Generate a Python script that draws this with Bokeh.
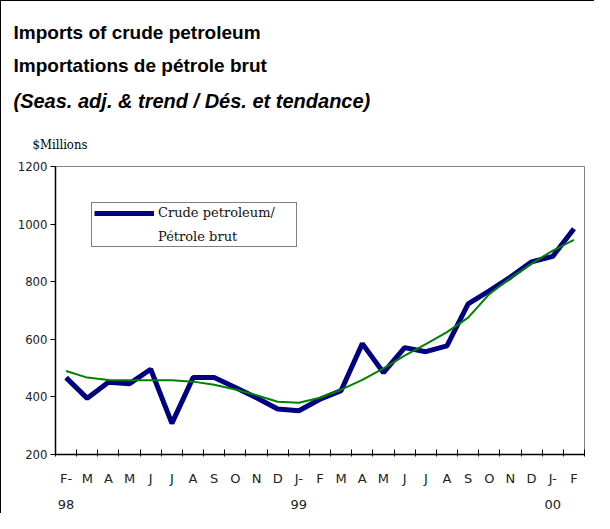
from bokeh.plotting import figure
from bokeh.models import Range1d, FixedTicker, Legend, LegendItem, Title
from bokeh.embed import file_html
from bokeh.resources import INLINE

# ---- data ----
months = ["F-\n98", "M", "A", "M", "J", "J", "A", "S", "O", "N", "D", "J-\n99",
          "F", "M", "A", "M", "J", "J", "A", "S", "O", "N", "D", "J-\n00", "F"]
crude = [467, 395, 451, 446, 496, 308, 467, 467, 433, 397, 358, 352,
         392, 422, 585, 484, 571, 557, 577, 723, 768, 816, 869, 888, 984]
trend = [490, 467, 459, 458, 458, 458, 453, 442, 426, 406, 383, 380,
         397, 425, 459, 499, 543, 583, 625, 675, 757, 813, 863, 908, 945]
y_ticks = [200, 400, 600, 800, 1000, 1200]

n = len(months)
xs = [i + 0.5 for i in range(n)]

W, H = 594, 513
p = figure(width=W, height=H, output_backend="svg", toolbar_location=None,
           title=None,
           x_range=Range1d(0, n), y_range=Range1d(200, 1200),
           min_border_left=54, min_border_right=11, min_border_top=165,
           min_border_bottom=60)
p.styles = {"border-left": "1px solid #000", "border-top": "1px solid #000"}
p.grid.visible = False
p.outline_line_color = "#808080"
p.outline_line_width = 1
p.background_fill_color = "white"
p.border_fill_color = "white"

# x axis
xa = p.xaxis[0]
xa.ticker = FixedTicker(ticks=xs, minor_ticks=list(range(n + 1)))
xa.major_label_overrides = {x: m for x, m in zip(xs, months)}
xa.major_tick_line_color = None
xa.minor_tick_in = 5
xa.minor_tick_out = 2
xa.minor_tick_line_color = "black"
xa.axis_line_color = "black"
xa.axis_line_width = 1.5
xa.major_label_text_font = "DejaVu Sans"
xa.major_label_text_font_size = "13px"
xa.major_label_text_color = "#222222"
xa.major_label_text_line_height = 1.75
xa.major_label_standoff = 10

# y axis
ya = p.yaxis[0]
ya.ticker = FixedTicker(ticks=y_ticks)
ya.minor_tick_line_color = None
ya.major_tick_in = 0
ya.major_tick_out = 5
ya.major_tick_line_color = "black"
ya.axis_line_color = "black"
ya.axis_line_width = 1.5
ya.major_label_text_font = "DejaVu Sans Condensed"
ya.major_label_text_font_size = "13px"
ya.major_label_text_color = "#222222"
ya.major_label_standoff = 3

# lines
r_crude = p.line(xs, crude, line_color="#000080", line_width=5)
r_trend = p.line(xs, trend, line_color="#008000", line_width=2)
r_dummy = p.line([], [], line_alpha=0)

legend = Legend(items=[LegendItem(label="Crude petroleum/", renderers=[r_crude]),
                       LegendItem(label="Pétrole brut", renderers=[r_dummy])],
                location=(36, 207), padding=2, spacing=9,
                glyph_width=60, glyph_height=14, label_height=14,
                label_standoff=4, label_width=136,
                border_line_color="black", border_line_width=1,
                label_text_font="DejaVu Serif", label_text_font_size="13px",
                label_text_color="#111111", background_fill_alpha=1,
                margin=0)
p.add_layout(legend, "center")

# titles: first added sits closest to the plot
def add_title(txt, size, style, font, standoff, offset):
    p.add_layout(Title(text=txt, text_font=font, text_font_size=size,
                       text_font_style=style, align="left", offset=offset,
                       standoff=standoff, text_color="black"), "above")

add_title("$Millions", "13px", "normal", "DejaVu Serif Condensed", 30, -23)
add_title("(Seas. adj. & trend / Dés. et tendance)", "20px", "bold italic",
          "Liberation Sans", 15, -42)
add_title("Importations de pétrole brut", "19px", "bold", "Liberation Sans", 10, -42)
add_title("Imports of crude petroleum", "19px", "bold", "Liberation Sans", 10, -42)

open("out.html", "w").write(file_html(p, INLINE))
